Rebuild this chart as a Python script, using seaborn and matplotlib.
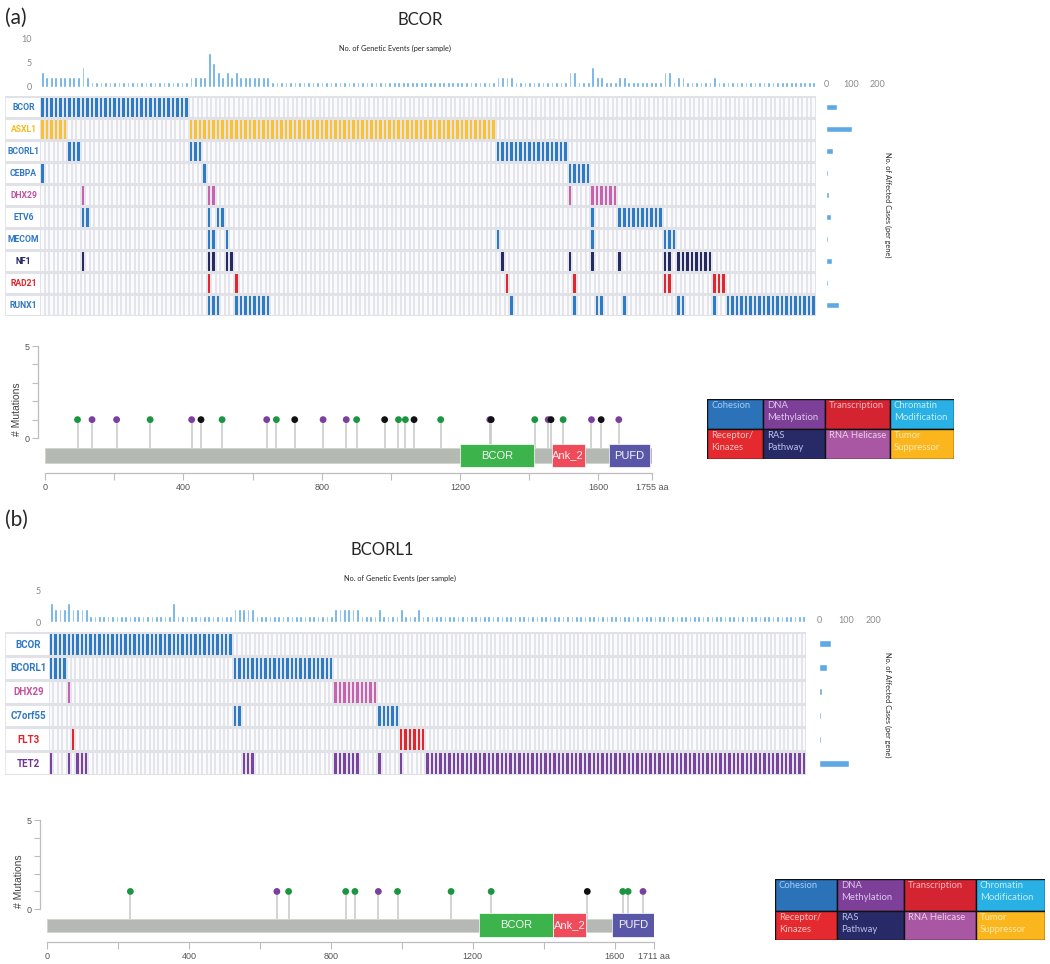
import numpy as np
import matplotlib
matplotlib.use('Agg')
import matplotlib.pyplot as plt
from matplotlib.colors import ListedColormap
from matplotlib.patches import Rectangle
from matplotlib import font_manager
import seaborn as sns

# ---------------------------------------------------------------- data (a)
N_A = 172
genes_a = ['BCOR', 'ASXL1', 'BCORL1', 'CEBPA', 'DHX29', 'ETV6', 'MECOM', 'NF1', 'RAD21', 'RUNX1']
gcolor_a = ['blue', 'yellow', 'blue', 'blue', 'pink', 'blue', 'blue', 'navy', 'red', 'blue']
ranges_a = {
    'BCOR':   [(0, 33)],
    'ASXL1':  [(0, 6), (33, 101)],
    'BCORL1': [(6, 9), (33, 36), (101, 117)],
    'CEBPA':  [(0, 1), (36, 37), (117, 122)],
    'DHX29':  [(9, 10), (37, 39), (117, 118), (122, 128)],
    'ETV6':   [(9, 11), (37, 38), (39, 41), (122, 123), (128, 138)],
    'MECOM':  [(37, 39), (41, 42), (101, 102), (122, 123), (138, 141)],
    'NF1':    [(9, 10), (37, 39), (41, 43), (102, 103), (117, 118), (122, 123), (128, 129), (138, 140), (141, 149)],
    'RAD21':  [(37, 38), (43, 44), (103, 104), (118, 119), (138, 140), (149, 152)],
    'RUNX1':  [(37, 40), (43, 51), (104, 105), (118, 119), (123, 125), (129, 130), (141, 143), (149, 150), (152, 172)],
}
extra_events_a = {}
affected_a = [44, 103, 29, 8, 10, 18, 8, 22, 8, 51]
length_a = 1755
mut_pos_a = [94, 136, 207, 304, 424, 451, 512, 641, 669, 722, 804, 871, 901, 982, 1022, 1042,
             1067, 1144, 1286, 1290, 1416, 1455, 1463, 1498, 1580, 1608, 1659]
mut_type_a = ['g', 'p', 'p', 'g', 'p', 'k', 'g', 'p', 'g', 'k', 'p', 'p', 'g', 'k', 'g', 'g',
              'k', 'g', 'p', 'k', 'g', 'p', 'k', 'g', 'p', 'k', 'p']
domains_a = [('BCOR', 1200, 1415), ('Ank_2', 1466, 1560), ('PUFD', 1632, 1748)]

# ---------------------------------------------------------------- data (b)
N_B = 173
genes_b = ['BCOR', 'BCORL1', 'DHX29', 'C7orf55', 'FLT3', 'TET2']
gcolor_b = ['blue', 'blue', 'pink', 'blue', 'red', 'purple']
ranges_b = {
    'BCOR':    [(0, 42)],
    'BCORL1':  [(0, 4), (42, 65)],
    'DHX29':   [(4, 5), (65, 75)],
    'C7orf55': [(42, 44), (75, 80)],
    'FLT3':    [(5, 6), (80, 86)],
    'TET2':    [(0, 1), (4, 5), (6, 9), (44, 47), (65, 71), (75, 76), (80, 81), (86, 173)],
}
extra_events_b = {28: 2, 84: 1}
affected_b = [44, 30, 12, 7, 7, 110]
length_b = 1711
mut_pos_b = [235, 648, 681, 842, 868, 934, 988, 1139, 1252, 1523, 1623, 1638, 1680]
mut_type_b = ['g', 'p', 'g', 'g', 'g', 'p', 'g', 'g', 'g', 'k', 'g', 'g', 'p']
domains_b = [('BCOR', 1218, 1425), ('Ank_2', 1425, 1520), ('PUFD', 1592, 1711)]

legend_labels = ['Cohesion', 'DNA\nMethylation', 'Transcription', 'Chromatin\nModification',
                 'Receptor/\nKinazes', 'RAS\nPathway', 'RNA Helicase', 'Tumor\nSuppressor']

# ---------------------------------------------------------------- style
sns.set_theme(style='white')
available = {f.name for f in font_manager.fontManager.ttflist}
BODY = 'Lato' if 'Lato' in available else 'DejaVu Sans'
SANS = 'Liberation Sans' if 'Liberation Sans' in available else 'DejaVu Sans'
LABF = 'Roboto' if 'Roboto' in available else 'DejaVu Sans'
plt.rcParams['font.family'] = [BODY, 'DejaVu Sans']

CELL_COLORS = ['#fbfbfd', '#2b7bc6', '#fcc12f', '#c862ae', '#262a62', '#e3252c', '#7b43a0']
CODE = {'blue': 1, 'yellow': 2, 'pink': 3, 'navy': 4, 'red': 5, 'purple': 6}
LABEL_COLORS = {'blue': '#2f78c4', 'yellow': '#f9b91c', 'pink': '#c4529f',
                'navy': '#26285e', 'red': '#e32229', 'purple': '#6f3593'}
MUT_COLORS = {'g': '#1a9641', 'p': '#7b3f9e', 'k': '#111111'}
DOMAIN_COLORS = {'BCOR': '#3cb44b', 'Ank_2': '#ef4b5a', 'PUFD': '#5b57a8'}
LEG_BG = ['#2b72b9', '#7d3f98', '#d42431', '#29b1e6', '#e52a2f', '#272a66', '#a957a2', '#fbb61d']
LEG_FG = ['#a5cdf2', '#dcc6ec', '#f5b6bc', '#c4ecfb', '#f8c0c0', '#bcc0ea', '#ecd0e8', '#fde8b0']
BAR_BLUE = '#5ea9e4'
GRID = '#e4e5ea'

W, H = 1050, 964
fig = plt.figure(figsize=(W / 100, H / 100), dpi=100)


def add_ax(x0, y0, x1, y1):
    return fig.add_axes([x0 / W, 1 - y1 / H, (x1 - x0) / W, (y1 - y0) / H])


def ftext(x, y, s, **kw):
    fig.text(x / W, 1 - y / H, s, **kw)


def build_matrix(genes, gcolors, ranges, n):
    M = np.zeros((len(genes), n))
    for i, g in enumerate(genes):
        for s, e in ranges[g]:
            M[i, s:e] = CODE[gcolors[i]]
    return M


def draw_oncoprint(genes, gcolors, ranges, n, extras, affected,
                   top_box, top_max, top_ticks, lab_box, mat_box, right_box, lab_fs):
    M = build_matrix(genes, gcolors, ranges, n)
    events = (M > 0).sum(axis=0).astype(float)
    for k, v in extras.items():
        events[k] += v

    # events per sample
    axt = add_ax(*top_box)
    axt.bar(np.arange(n), events, width=0.6, color=BAR_BLUE)
    axt.set_xlim(-0.5, n - 0.5)
    axt.set_ylim(0, top_max)
    axt.set_yticks(top_ticks)
    axt.set_xticks([])
    axt.tick_params(axis='y', length=0, labelsize=6.5, labelcolor='#8a8a8a', pad=6)
    for sp in axt.spines.values():
        sp.set_visible(False)
    axt.set_facecolor('none')

    # matrix
    axm = add_ax(*mat_box)
    sns.heatmap(M, ax=axm, cmap=ListedColormap(CELL_COLORS), vmin=-0.5, vmax=6.5,
                cbar=False, linewidths=0.3, linecolor=GRID,
                xticklabels=False, yticklabels=False)
    axm.hlines(np.arange(0, len(genes) + 1), 0, n, color='#e1e2e7', lw=2.2)
    axm.vlines([0, n], 0, len(genes), color='#e1e2e7', lw=1.2)
    axm.set_xlim(0, n)
    axm.set_ylim(len(genes), 0)

    # gene labels
    axl = add_ax(*lab_box)
    axl.set_xlim(0, 1)
    axl.set_ylim(len(genes), 0)
    axl.hlines(np.arange(0, len(genes) + 1), 0, 1, color='#e1e2e7', lw=2.2)
    axl.vlines([0], 0, len(genes), color='#e1e2e7', lw=1.2)
    for i, g in enumerate(genes):
        axl.text(0.53, i + 0.53, g, ha='center', va='center', fontsize=lab_fs,
                 color=LABEL_COLORS[gcolors[i]], fontweight='bold', family=[LABF, 'DejaVu Sans'])
    axl.axis('off')

    # affected cases per gene
    axr = add_ax(*right_box)
    sns.barplot(x=affected, y=genes, orient='h', color=BAR_BLUE, saturation=1,
                width=0.3, ax=axr)
    axr.set_xlim(0, 200)
    axr.set_ylim(len(genes) - 0.5, -0.5)
    axr.set_xticks([0, 100, 200])
    axr.xaxis.tick_top()
    axr.tick_params(axis='x', length=0, labelsize=6.5, labelcolor='#8a8a8a', pad=5)
    axr.set_yticks([])
    axr.set_xlabel('')
    axr.set_ylabel('')
    for sp in axr.spines.values():
        sp.set_visible(False)
    axr.set_facecolor('none')


def draw_lollipop(box, length, pos, types, domains, bar_y, dom_y, ylim_low):
    ax = add_ax(*box)
    ax.set_xlim(0, length)
    ax.set_ylim(ylim_low, 5)
    ax.vlines(pos, bar_y[1], 1, color='#c5c9c5', lw=1.1, zorder=1)
    ax.add_patch(Rectangle((0, bar_y[0]), length, bar_y[1] - bar_y[0],
                           facecolor='#b4b9b3', edgecolor='#d0d4cf', lw=0.6, zorder=2))
    for name, s, e in domains:
        ax.add_patch(Rectangle((s, dom_y[0]), e - s, dom_y[1] - dom_y[0],
                               facecolor=DOMAIN_COLORS[name], edgecolor='white', lw=0.5, zorder=3))
        ax.text((s + e) / 2, (dom_y[0] + dom_y[1]) / 2, name, ha='center', va='center',
                color='#f4f4f4', fontsize=8, zorder=4, family=[SANS, 'DejaVu Sans'])
    sns.scatterplot(x=pos, y=[1] * len(pos), hue=types, palette=MUT_COLORS, s=24,
                    edgecolor='none', legend=False, ax=ax, zorder=5)
    ax.set_yticks([0, 1, 2, 3, 4, 5])
    ax.set_yticklabels(['0', '', '', '', '', '5'])
    ax.set_ylabel('# Mutations', fontsize=7.5, color='#444444', labelpad=2,
                  family=[SANS, 'DejaVu Sans'])
    ax.spines['left'].set_bounds(0, 5)
    ax.spines['left'].set_position(('outward', 5))
    ax.spines['bottom'].set_bounds(0, length)
    for side in ('top', 'right'):
        ax.spines[side].set_visible(False)
    for side in ('left', 'bottom'):
        ax.spines[side].set_color('#bdbdbd')
        ax.spines[side].set_linewidth(0.9)
    ax.set_xticks([0, 400, 800, 1200, 1600, length])
    ax.set_xticklabels(['0', '400', '800', '1200', '1600', f'{length} aa'])
    ax.set_xticks([200, 600, 1000, 1400], minor=True)
    ax.tick_params(axis='both', which='both', direction='out', length=4, width=0.8,
                   color='#bdbdbd', labelsize=6.5, labelcolor='#555555', pad=2)
    ax.tick_params(axis='x', which='both', bottom=True, length=5)
    ax.tick_params(axis='y', left=True)
    for t in ax.get_xticklabels() + ax.get_yticklabels():
        t.set_family([SANS, 'DejaVu Sans'])
    ax.set_facecolor('none')


def draw_legend(x_edges, y_edges):
    ax = add_ax(x_edges[0], y_edges[0], x_edges[-1], y_edges[-1])
    ax.set_xlim(x_edges[0], x_edges[-1])
    ax.set_ylim(y_edges[-1], y_edges[0])
    k = 0
    for r in range(2):
        for c in range(4):
            x0, x1 = x_edges[c], x_edges[c + 1]
            y0, y1 = y_edges[r], y_edges[r + 1]
            ax.add_patch(Rectangle((x0, y0), x1 - x0, y1 - y0, facecolor=LEG_BG[k],
                                   edgecolor='#111111', lw=1.0))
            ax.text(x0 + 4, y0 + 2.5, legend_labels[k], ha='left', va='top', fontsize=6.8,
                    color=LEG_FG[k], linespacing=1.35)
            k += 1
    ax.axis('off')


# ---------------------------------------------------------------- panel (a)
ftext(5, 18, '(a)', fontsize=15, va='center', ha='left')
ftext(420, 20, 'BCOR', fontsize=12, va='center', ha='center')
ftext(395, 48, 'No. of Genetic Events (per sample)', fontsize=5.3, ha='center', va='center')
ftext(888, 205, 'No. of Affected Cases (per gene)', fontsize=5.3, ha='center', va='center', rotation=270)
draw_oncoprint(genes_a, gcolor_a, ranges_a, N_A, extra_events_a, affected_a,
               top_box=(40, 38, 816, 87), top_max=10, top_ticks=[0, 5, 10],
               lab_box=(5, 96, 40, 316), mat_box=(40, 96, 816, 316),
               right_box=(826, 96, 877, 316), lab_fs=6.2)
draw_lollipop((45, 346, 652, 473), length_a, mut_pos_a, mut_type_a, domains_a,
              bar_y=(-1.36, -0.56), dom_y=(-1.58, -0.33), ylim_low=-1.9)
draw_legend([707, 763, 825, 890, 954], [399, 429, 459])

# ---------------------------------------------------------------- panel (b)
ftext(5, 520, '(b)', fontsize=15, va='center', ha='left')
ftext(382, 550, 'BCORL1', fontsize=12, va='center', ha='center')
ftext(400, 578, 'No. of Genetic Events (per sample)', fontsize=5.3, ha='center', va='center')
ftext(888, 705, 'No. of Affected Cases (per gene)', fontsize=5.3, ha='center', va='center', rotation=270)
draw_oncoprint(genes_b, gcolor_b, ranges_b, N_B, extra_events_b, affected_b,
               top_box=(49, 590, 806, 622), top_max=5, top_ticks=[0, 5],
               lab_box=(5, 632, 49, 775), mat_box=(49, 632, 806, 775),
               right_box=(819, 632, 873, 775), lab_fs=7.0)
draw_lollipop((47, 820, 654, 942), length_b, mut_pos_b, mut_type_b, domains_b,
              bar_y=(-1.28, -0.56), dom_y=(-1.56, -0.22), ylim_low=-1.83)
draw_legend([775, 837, 904, 976, 1045], [879, 911, 940])

fig.savefig('out.png', dpi=100)
